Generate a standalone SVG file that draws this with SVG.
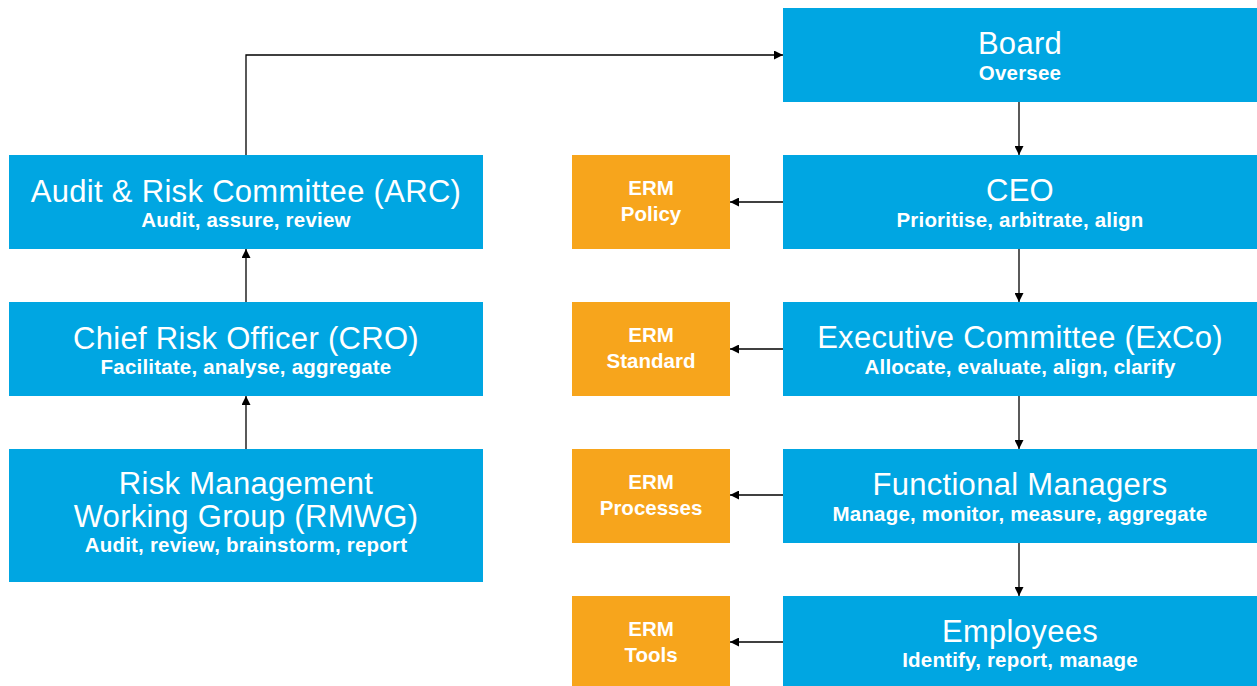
<svg xmlns="http://www.w3.org/2000/svg" width="1257" height="686" viewBox="0 0 1257 686">
  <style>
    .role { fill: #00A6E2; }
    .doc { fill: #F7A51C; }
    .title { font-family: "Liberation Sans", Arial, sans-serif; font-size: 31px; letter-spacing: 0.3px; fill: #ffffff; text-anchor: middle; }
    .sub { font-family: "Liberation Sans", Arial, sans-serif; font-size: 20.5px; letter-spacing: 0.2px; font-weight: bold; fill: #ffffff; text-anchor: middle; }
    .docl { font-family: "Liberation Sans", Arial, sans-serif; font-size: 20.5px; font-weight: bold; fill: #ffffff; text-anchor: middle; }
    .link { fill: none; stroke: #000000; stroke-width: 1.3; marker-end: url(#head); }
  </style>
  <defs>
    <marker id="head" viewBox="0 0 10 10" refX="10" refY="5" markerWidth="9" markerHeight="9" markerUnits="userSpaceOnUse" orient="auto">
      <path d="M0,0 L10,5 L0,10 z" fill="#000000"/>
    </marker>
  </defs>

  <!-- connectors -->
  <g id="connectors">
    <path class="link" d="M246,155 V55 H783"/>
    <path class="link" d="M246,302 V249"/>
    <path class="link" d="M246,449 V396"/>
    <path class="link" d="M1019,102 V155"/>
    <path class="link" d="M1019,249 V302"/>
    <path class="link" d="M1019,396 V449"/>
    <path class="link" d="M1019,543 V596"/>
    <path class="link" d="M783,202 H730"/>
    <path class="link" d="M783,349 H730"/>
    <path class="link" d="M783,495 H730"/>
    <path class="link" d="M783,642 H730"/>
  </g>

  <!-- governance side -->
  <g id="arc">
    <rect class="role" x="9" y="155" width="474" height="94"/>
    <text class="title" x="246" y="202">Audit &amp; Risk Committee (ARC)</text>
    <text class="sub" x="246" y="227">Audit, assure, review</text>
  </g>
  <g id="cro">
    <rect class="role" x="9" y="302" width="474" height="94"/>
    <text class="title" x="246" y="349">Chief Risk Officer (CRO)</text>
    <text class="sub" x="246" y="374">Facilitate, analyse, aggregate</text>
  </g>
  <g id="rmwg">
    <rect class="role" x="9" y="449" width="474" height="133"/>
    <text class="title" x="246" y="494">Risk Management</text>
    <text class="title" x="246" y="527">Working Group (RMWG)</text>
    <text class="sub" x="246" y="552">Audit, review, brainstorm, report</text>
  </g>

  <!-- management line -->
  <g id="board">
    <rect class="role" x="783" y="8" width="474" height="94"/>
    <text class="title" x="1020" y="54">Board</text>
    <text class="sub" x="1020" y="80">Oversee</text>
  </g>
  <g id="ceo">
    <rect class="role" x="783" y="155" width="474" height="94"/>
    <text class="title" x="1020" y="201">CEO</text>
    <text class="sub" x="1020" y="227">Prioritise, arbitrate, align</text>
  </g>
  <g id="exco">
    <rect class="role" x="783" y="302" width="474" height="94"/>
    <text class="title" x="1020" y="348">Executive Committee (ExCo)</text>
    <text class="sub" x="1020" y="374">Allocate, evaluate, align, clarify</text>
  </g>
  <g id="managers">
    <rect class="role" x="783" y="449" width="474" height="94"/>
    <text class="title" x="1020" y="495">Functional Managers</text>
    <text class="sub" x="1020" y="521">Manage, monitor, measure, aggregate</text>
  </g>
  <g id="employees">
    <rect class="role" x="783" y="596" width="474" height="94"/>
    <text class="title" x="1020" y="642">Employees</text>
    <text class="sub" x="1020" y="667">Identify, report, manage</text>
  </g>

  <!-- ERM documents -->
  <g id="erm-policy">
    <rect class="doc" x="572" y="155" width="158" height="94"/>
    <text class="docl" x="651" y="195">ERM</text>
    <text class="docl" x="651" y="221">Policy</text>
  </g>
  <g id="erm-standard">
    <rect class="doc" x="572" y="302" width="158" height="94"/>
    <text class="docl" x="651" y="342">ERM</text>
    <text class="docl" x="651" y="368">Standard</text>
  </g>
  <g id="erm-processes">
    <rect class="doc" x="572" y="449" width="158" height="94"/>
    <text class="docl" x="651" y="489">ERM</text>
    <text class="docl" x="651" y="515">Processes</text>
  </g>
  <g id="erm-tools">
    <rect class="doc" x="572" y="596" width="158" height="94"/>
    <text class="docl" x="651" y="636">ERM</text>
    <text class="docl" x="651" y="662">Tools</text>
  </g>
</svg>
